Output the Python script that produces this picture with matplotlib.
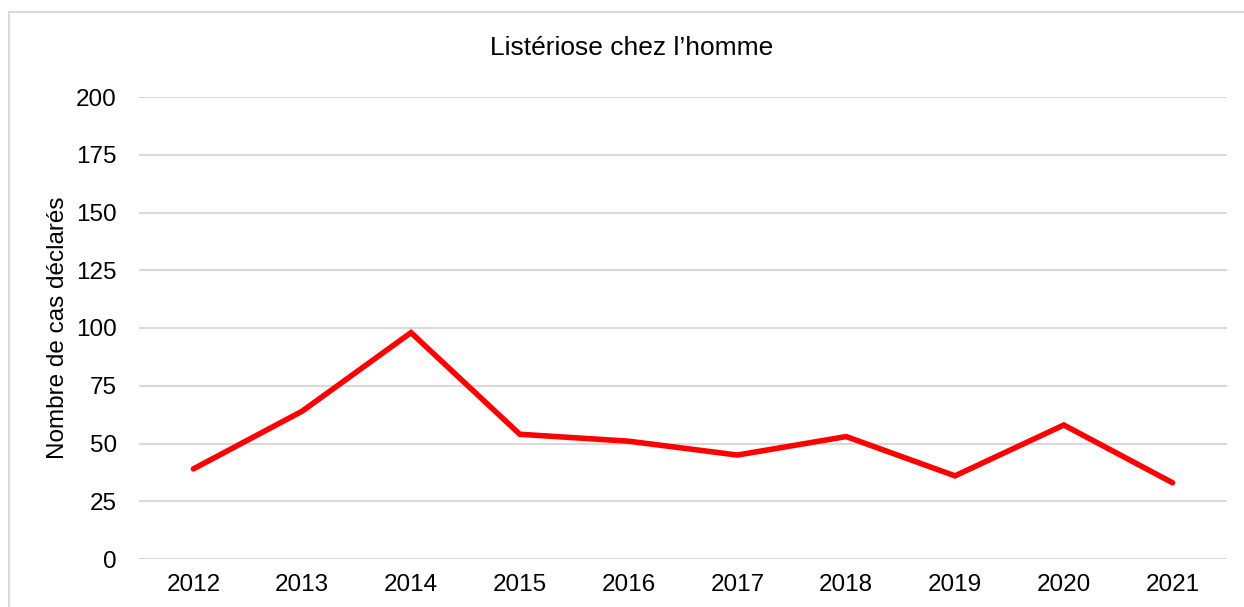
import matplotlib.pyplot as plt
from matplotlib.patches import Rectangle

plt.rcParams['font.family'] = ['Liberation Sans', 'DejaVu Sans']

# Data
annees = ['2012', '2013', '2014', '2015', '2016', '2017', '2018', '2019', '2020', '2021']
cas_declares = [39, 64, 98, 54, 51, 45, 53, 36, 58, 33]
yticks = [0, 25, 50, 75, 100, 125, 150, 175, 200]

fig = plt.figure(figsize=(12.44, 6.07), dpi=100)
ax = fig.add_axes([139 / 1244, 1 - 559 / 607, (1227 - 139) / 1244, (559 - 97) / 607])

# light frame around the chart area
fig.patches.append(Rectangle((9 / 1244, -0.1), 1.2, 1 - 12 / 607 + 0.1,
                             transform=fig.transFigure, fill=False,
                             edgecolor='#d9d9d9', linewidth=1.5))

x = range(len(annees))
ax.plot(x, cas_declares, color='#ff0000', linewidth=4, solid_capstyle='round',
        solid_joinstyle='miter', zorder=3)

ax.set_xlim(-0.5, len(annees) - 0.5)
ax.set_ylim(0, 200)
ax.set_xticks(list(x))
ax.set_xticklabels(annees)
ax.set_yticks(yticks)
ax.tick_params(axis='both', length=0, labelsize=17.5, pad=11)
ax.tick_params(axis='y', pad=16)
ax.grid(axis='y', color='#d9d9d9', linewidth=1.5)
ax.set_axisbelow(True)
for s in ax.spines.values():
    s.set_visible(False)

ax.set_ylabel('Nombre de cas déclarés', fontsize=17.5, labelpad=5)
fig.text(632 / 1244, 1 - 48 / 607, 'Listériose chez l\u2019homme', fontsize=19,
         ha='center', va='center')

plt.savefig('out.png')
